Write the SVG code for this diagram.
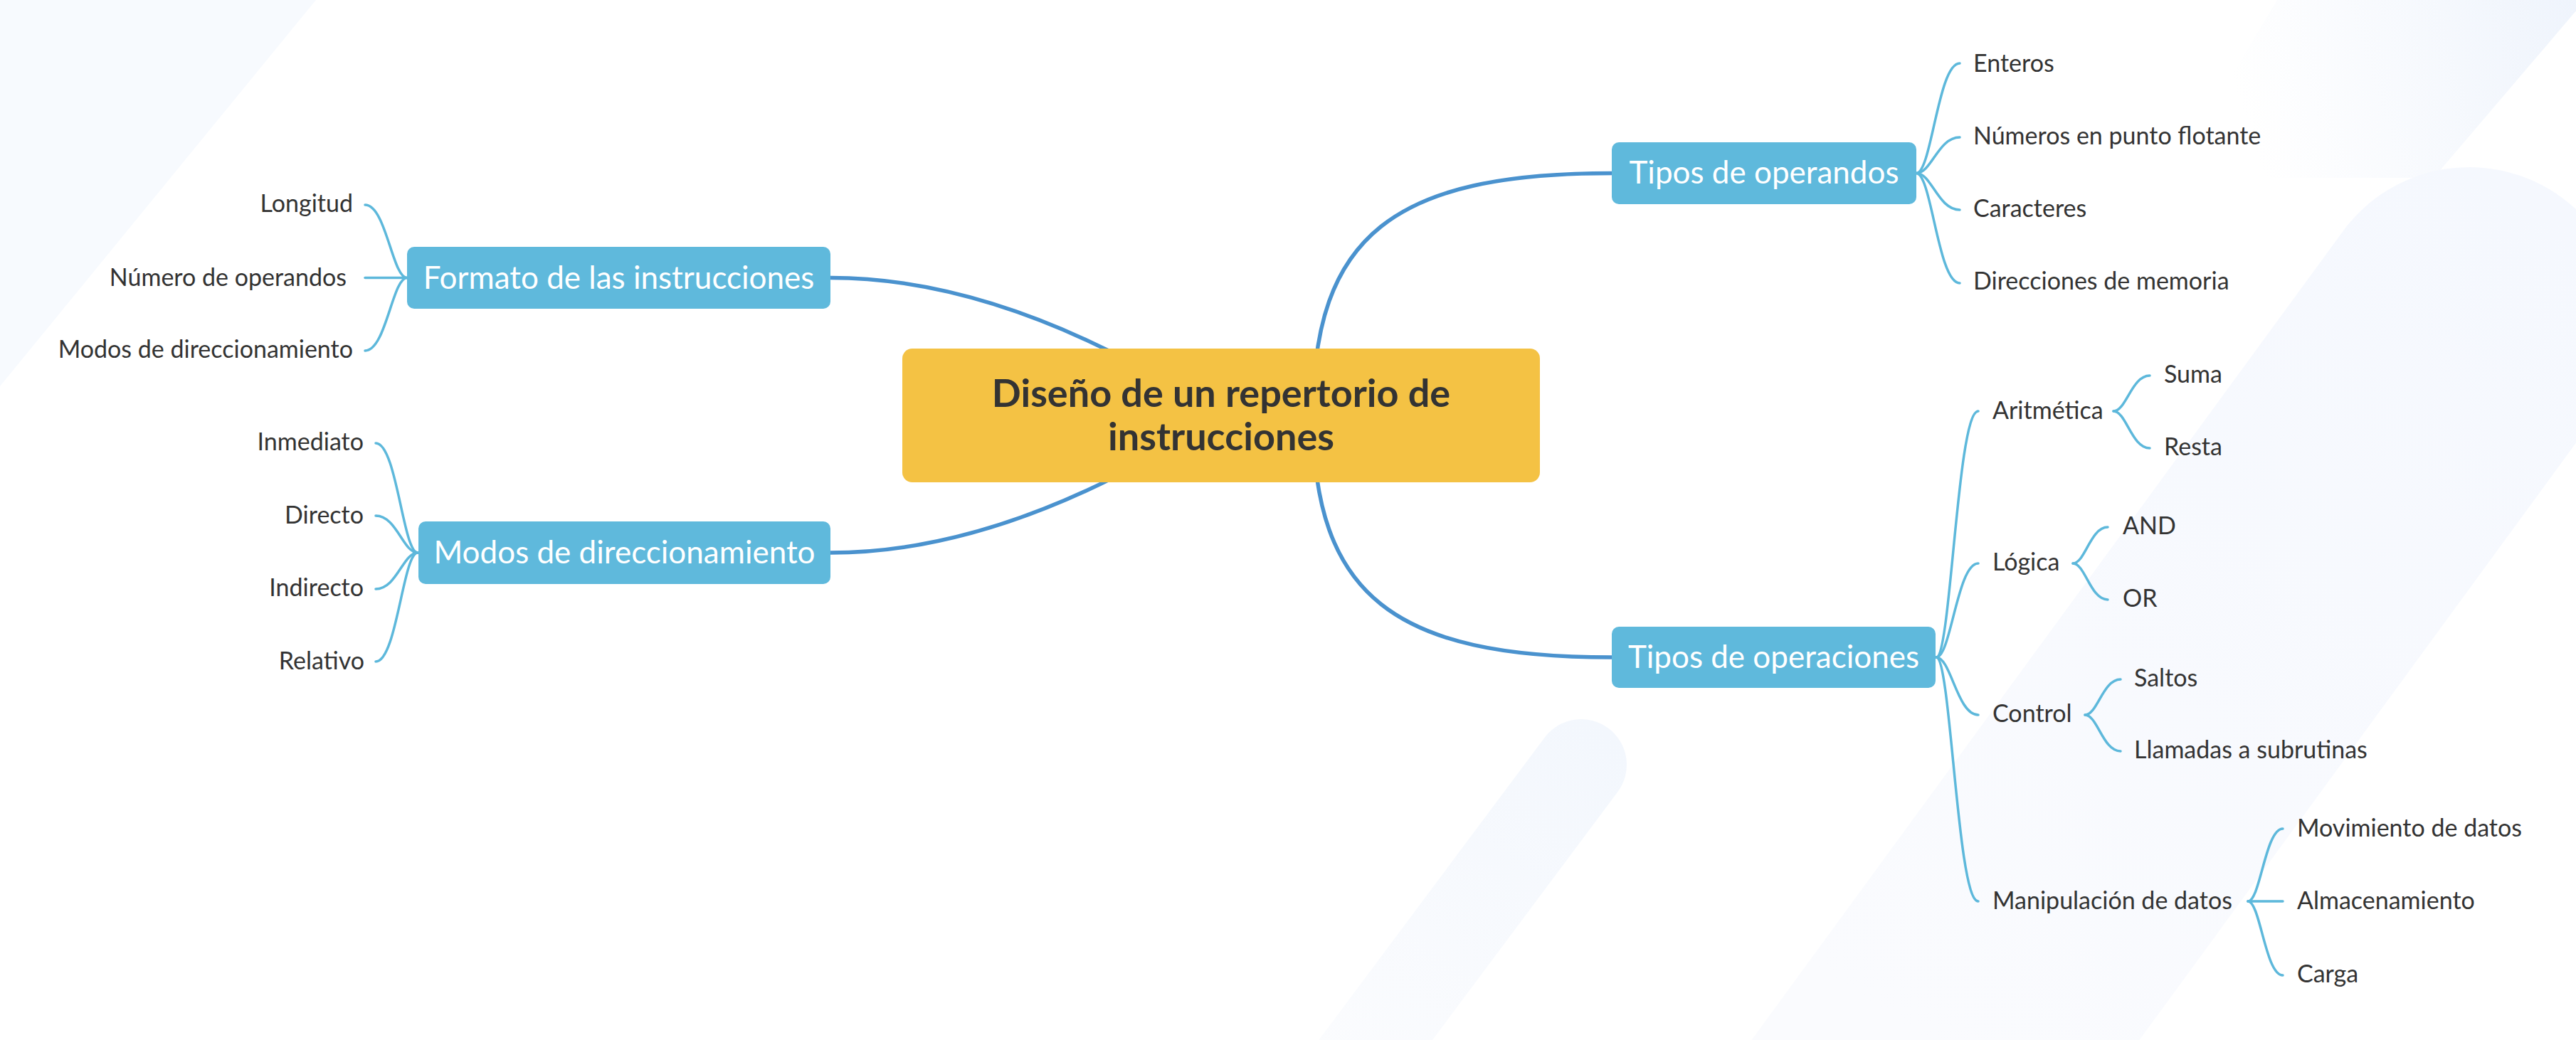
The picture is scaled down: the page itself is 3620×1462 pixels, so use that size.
<svg xmlns="http://www.w3.org/2000/svg" width="3620" height="1462" viewBox="0 0 3620 1462">
<style>
.leaf{font-family:Lato,'Liberation Sans',sans-serif;font-size:34px;fill:#333333}
.leaf-r{text-anchor:end}
.topic-text{font-family:Lato,'Liberation Sans',sans-serif;font-size:44px;fill:#ffffff;text-anchor:middle}
.center-text{font-family:Lato,'Liberation Sans',sans-serif;font-size:54px;font-weight:bold;fill:#333333;text-anchor:middle}
.topic-box{fill:#5FB9DC}
.center-box{fill:#F4C244}
.main-link{fill:none;stroke:#4A92CE;stroke-width:5.5;stroke-linecap:round}
.sub-link{fill:none;stroke:#5DB8DB;stroke-width:3.5;stroke-linecap:round}
</style>
<defs>
<linearGradient id="pillGrad" gradientUnits="userSpaceOnUse" x1="2222" y1="1000" x2="1860" y2="1500">
<stop offset="0" stop-color="#F3F7FD"/>
<stop offset="1" stop-color="#FBFCFE"/>
</linearGradient>
<linearGradient id="bigGrad" gradientUnits="userSpaceOnUse" x1="3500" y1="250" x2="2700" y2="1460">
<stop offset="0" stop-color="#F5F8FE"/>
<stop offset="1" stop-color="#FAFBFE"/>
</linearGradient>
<linearGradient id="bandGrad" gradientUnits="userSpaceOnUse" x1="3620" y1="0" x2="3150" y2="150">
<stop offset="0" stop-color="#EFF4FC"/>
<stop offset="1" stop-color="#FFFFFF"/>
</linearGradient>
</defs>
<rect x="0" y="0" width="3620" height="1462" fill="#FFFFFF"/>
<g id="background">
<polygon points="0,0 444,0 0,543" fill="#F7FAFE"/>
<polygon points="3200,0 3633,0 3420,250 3050,250" fill="url(#bandGrad)"/>
<line x1="3470" y1="455" x2="2560" y2="1700" stroke="url(#bigGrad)" stroke-width="440" stroke-linecap="round"/>
<line x1="2222" y1="1075" x2="1860" y2="1560" stroke="url(#pillGrad)" stroke-width="128" stroke-linecap="round"/>
</g>
<g id="connectors">
<path class="main-link" d="M1167 390.5 Q1420 390.5 1716 584"/>
<path class="main-link" d="M1167 777 Q1420 777 1716 584"/>
<path class="main-link" d="M1845 584 C1845 330 1960 243.5 2265 243.5"/>
<path class="main-link" d="M1845 584 C1845 838 1960 924 2265 924"/>
<path class="sub-link" d="M572 390.5 C551.4 390.5 542.5 288 513 288"/>
<path class="sub-link" d="M572 390.5 L513 390.5"/>
<path class="sub-link" d="M572 390.5 C551.4 390.5 542.5 493 513 493"/>
<path class="sub-link" d="M587 777 C566.4 777 557.5 623 528 623"/>
<path class="sub-link" d="M587 777 C566.4 777 557.5 725 528 725"/>
<path class="sub-link" d="M587 777 C566.4 777 557.5 828 528 828"/>
<path class="sub-link" d="M587 777 C566.4 777 557.5 930 528 930"/>
<path class="sub-link" d="M2693 243.5 C2714.4 243.5 2723.5 89 2754 89"/>
<path class="sub-link" d="M2693 243.5 C2714.4 243.5 2723.5 193 2754 193"/>
<path class="sub-link" d="M2693 243.5 C2714.4 243.5 2723.5 295 2754 295"/>
<path class="sub-link" d="M2693 243.5 C2714.4 243.5 2723.5 398 2754 398"/>
<path class="sub-link" d="M2721 924 C2741.6 924 2750.5 578 2780 578"/>
<path class="sub-link" d="M2721 924 C2741.6 924 2750.5 792 2780 792"/>
<path class="sub-link" d="M2721 924 C2741.6 924 2750.5 1005 2780 1005"/>
<path class="sub-link" d="M2721 924 C2741.6 924 2750.5 1267 2780 1267"/>
<path class="sub-link" d="M2970 578 C2987.9 578 2995.5 528 3021 528"/>
<path class="sub-link" d="M2970 578 C2987.9 578 2995.5 630 3021 630"/>
<path class="sub-link" d="M2913 792 C2930.2 792 2937.5 741 2962 741"/>
<path class="sub-link" d="M2913 792 C2930.2 792 2937.5 843 2962 843"/>
<path class="sub-link" d="M2930 1005 C2947.5 1005 2955 955 2980 955"/>
<path class="sub-link" d="M2930 1005 C2947.5 1005 2955 1056 2980 1056"/>
<path class="sub-link" d="M3159 1267 C3176.2 1267 3183.5 1165 3208 1165"/>
<path class="sub-link" d="M3159 1267 L3208 1267"/>
<path class="sub-link" d="M3159 1267 C3176.2 1267 3183.5 1371 3208 1371"/>
</g>
<g id="node-center">
<rect class="center-box" x="1268" y="490" width="896" height="188" rx="14"/>
<text class="center-text" x="1716" y="572">Diseño de un repertorio de</text>
<text class="center-text" x="1716" y="633">instrucciones</text>
</g>
<g id="node-formato">
<rect class="topic-box" x="572" y="347" width="595" height="87" rx="10"/>
<text class="topic-text" x="869.5" y="406">Formato de las instrucciones</text>
</g>
<g id="node-modos">
<rect class="topic-box" x="588" y="733" width="579" height="88" rx="10"/>
<text class="topic-text" x="877.5" y="792">Modos de direccionamiento</text>
</g>
<g id="node-operandos">
<rect class="topic-box" x="2265" y="200" width="428" height="87" rx="10"/>
<text class="topic-text" x="2479" y="258">Tipos de operandos</text>
</g>
<g id="node-operaciones">
<rect class="topic-box" x="2265" y="881" width="455" height="86" rx="10"/>
<text class="topic-text" x="2492.5" y="939">Tipos de operaciones</text>
</g>
<g id="node-longitud"><text class="leaf leaf-r" x="496" y="298">Longitud</text></g>
<g id="node-numero-operandos"><text class="leaf leaf-r" x="487" y="402">Número de operandos</text></g>
<g id="node-modos-dir"><text class="leaf leaf-r" x="496" y="503">Modos de direccionamiento</text></g>
<g id="node-inmediato"><text class="leaf leaf-r" x="511" y="633">Inmediato</text></g>
<g id="node-directo"><text class="leaf leaf-r" x="511" y="736">Directo</text></g>
<g id="node-indirecto"><text class="leaf leaf-r" x="511" y="838">Indirecto</text></g>
<g id="node-relativo"><text class="leaf leaf-r" x="512" y="941">Relativo</text></g>
<g id="node-enteros"><text class="leaf" x="2773" y="101">Enteros</text></g>
<g id="node-flotante"><text class="leaf" x="2773" y="203">Números en punto flotante</text></g>
<g id="node-caracteres"><text class="leaf" x="2773" y="305">Caracteres</text></g>
<g id="node-direcciones"><text class="leaf" x="2773" y="407">Direcciones de memoria</text></g>
<g id="node-aritmetica"><text class="leaf" x="2800" y="589">Aritmética</text></g>
<g id="node-suma"><text class="leaf" x="3041" y="538">Suma</text></g>
<g id="node-resta"><text class="leaf" x="3041" y="640">Resta</text></g>
<g id="node-logica"><text class="leaf" x="2800" y="802">Lógica</text></g>
<g id="node-and"><text class="leaf" x="2983" y="751">AND</text></g>
<g id="node-or"><text class="leaf" x="2983" y="853">OR</text></g>
<g id="node-control"><text class="leaf" x="2800" y="1015">Control</text></g>
<g id="node-saltos"><text class="leaf" x="2999" y="965">Saltos</text></g>
<g id="node-llamadas"><text class="leaf" x="2999" y="1066">Llamadas a subrutinas</text></g>
<g id="node-manipulacion"><text class="leaf" x="2800" y="1278">Manipulación de datos</text></g>
<g id="node-movimiento"><text class="leaf" x="3228" y="1176">Movimiento de datos</text></g>
<g id="node-almacenamiento"><text class="leaf" x="3228" y="1278">Almacenamiento</text></g>
<g id="node-carga"><text class="leaf" x="3228" y="1381">Carga</text></g>
</svg>
